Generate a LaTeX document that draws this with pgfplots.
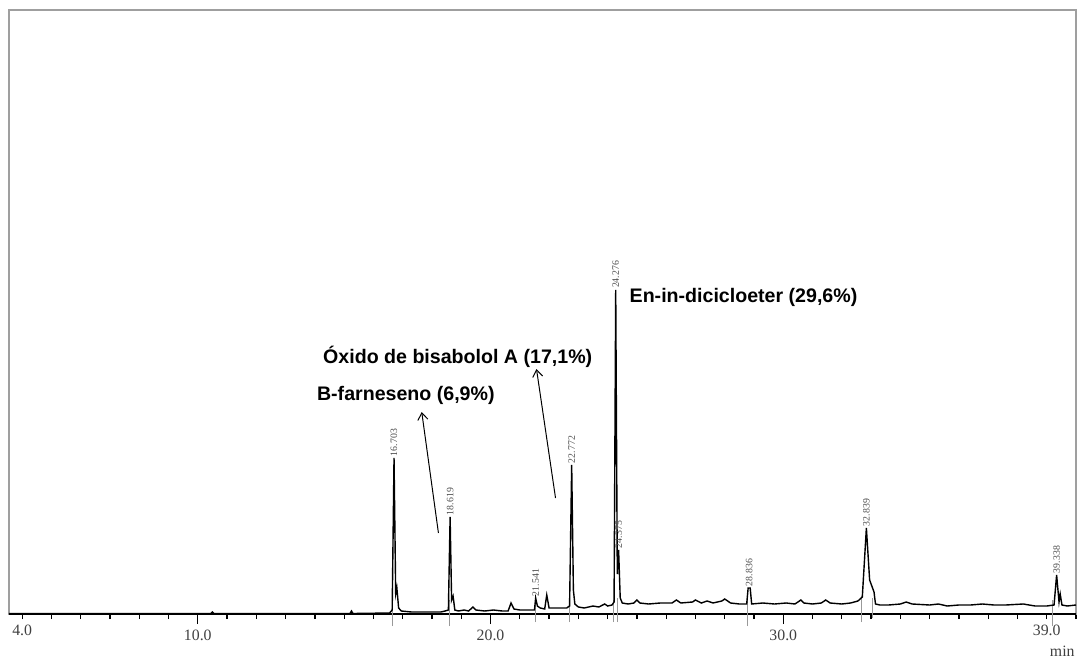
\documentclass[border=0pt]{standalone}
\usepackage{pgfplots}
\pgfplotsset{compat=1.18}
\usepackage{fontspec}
\setmainfont{Liberation Serif}
\newfontfamily\labelsans{Liberation Sans}
\usetikzlibrary{arrows.meta}

\begin{document}
\begin{tikzpicture}[
  rt/.style={rotate=90, anchor=west, inner sep=0.8pt, text=black!70,
    font=\fontsize{4.9}{5.5}\selectfont},
  compound/.style={anchor=base west, inner sep=0pt,
    font=\labelsans\bfseries\fontsize{9.8}{11}\selectfont},
]
% page frame: 1 px of the layout = 0.5 pt
\useasboundingbox (-4.5pt,-23pt) rectangle (534.5pt,307pt);
\begin{axis}[
  at={(0,0)}, anchor=south west,
  width=533.5pt, height=302pt, scale only axis,
  xmin=3.55, xmax=40.0, ymin=0, ymax=604,
  clip=false,
  axis line style={draw=gray!75, line width=0.9pt},
  ytick=\empty,
  xtick={10,20,30}, xticklabels={10.0,20.0,30.0},
  extra x ticks={4,39}, extra x tick labels={4.0,39.0},
  extra x tick style={major tick length=2.6pt},
  minor xtick={4,5,...,40},
  xtick pos=lower, tick align=outside,
  major tick length=5pt, minor tick length=2.6pt,
  tick style={black, line width=0.6pt},
  xticklabel style={font=\fontsize{7.9}{8.5}\selectfont, text=black!75, yshift=0.5pt},
  /pgf/number format/assume math mode=true,
]
% bottom axis line in black
\draw[black, line width=0.9pt] (rel axis cs:0,0) -- (rel axis cs:1,0);

% integration markers at peak starts and ends
\addplot[gray!80, line width=0.4pt, unbounded coords=jump] coordinates {
  (16.64,-12) (16.64,14) (16.64,nan)
  (18.58,-12) (18.58,14) (18.58,nan)
  (21.54,-8) (21.54,16) (21.54,nan)
  (22.70,-8) (22.70,14) (22.70,nan)
  (24.18,-8) (24.18,14) (24.18,nan)
  (24.33,-8) (24.33,16) (24.33,nan)
  (28.77,-12) (28.77,14) (28.77,nan)
  (32.68,-8) (32.68,18) (32.68,nan)
  (33.05,-4) (33.05,16) (33.05,nan)
  (39.20,-12) (39.20,14)
};

% chromatogram trace
\addplot[black, line width=0.7pt] coordinates {
(3.55,0.5) (10.45,0.5) (10.5,2) (10.55,0.5) (15.2,0.5) (15.25,3) (15.3,0.5)
(16.55,1) (16.64,4) (16.703,156) (16.76,20) (16.80,26) (16.86,6) (16.95,3)
(17.3,2) (17.8,2) (18.3,2) (18.45,3) (18.56,4) (18.619,97) (18.67,14)
(18.72,18) (18.78,4) (18.9,3) (19.1,4) (19.25,3) (19.4,7) (19.5,4)
(19.8,3) (20.1,4) (20.4,3) (20.6,3) (20.7,11) (20.8,5) (21.0,4) (21.2,4)
(21.4,4) (21.5,4) (21.541,16) (21.6,8) (21.7,6) (21.85,5) (21.92,19)
(22.0,6) (22.3,6) (22.6,6) (22.7,8) (22.772,149) (22.83,24) (22.88,10)
(23.0,7) (23.2,6) (23.5,8) (23.7,7) (23.9,10) (24.0,8) (24.15,9) (24.22,12)
(24.276,324) (24.33,40) (24.375,64) (24.43,16) (24.5,11) (24.7,10)
(24.9,11) (25.0,14) (25.1,11) (25.4,10) (25.8,11) (26.2,11) (26.35,14)
(26.5,11) (26.9,12) (27.0,14) (27.2,11) (27.4,13) (27.6,11) (27.9,13)
(28.0,15) (28.2,11) (28.5,10) (28.75,10) (28.8,26) (28.87,26) (28.92,10)
(29.3,11) (29.7,10) (30.1,11) (30.4,10) (30.6,14) (30.7,11) (31.0,10)
(31.3,11) (31.45,14) (31.6,11) (32.0,10) (32.3,11) (32.55,13) (32.7,17)
(32.839,86) (32.95,34) (33.1,22) (33.15,10) (33.3,9) (33.6,9) (34.0,10)
(34.2,12) (34.4,10) (35.0,9) (35.3,10) (35.6,8) (36.0,9) (36.4,9)
(36.8,10) (37.2,9) (37.6,9) (38.2,10) (38.6,8) (39.0,8) (39.25,9)
(39.338,39) (39.42,12) (39.46,20) (39.52,9) (39.7,8) (40.0,9)
};

% retention times above the peaks
\node[rt] at (axis cs:16.703,156) {16.703};
\node[rt] at (axis cs:18.619,97) {18.619};
\node[rt] at (axis cs:21.541,16) {21.541};
\node[rt] at (axis cs:22.772,149) {22.772};
\node[rt] at (axis cs:24.276,324) {24.276};
\node[rt] at (axis cs:24.375,64) {24.375};
\node[rt] at (axis cs:28.836,26) {28.836};
\node[rt] at (axis cs:32.839,86) {32.839};
\node[rt] at (axis cs:39.338,39) {39.338};

% compound annotations
\node[compound] at (axis cs:14.06,214) {B-farneseno (6,9\%)};
\node[compound] at (axis cs:14.27,251) {Óxido de bisabolol A (17,1\%)};
\node[compound] at (axis cs:24.74,312) {En-in-dicicloeter (29,6\%)};
\draw[black, line width=0.5pt, -{Straight Barb[length=3.5pt, width=5pt]}]
  (axis cs:18.22,81) -- (axis cs:17.65,202);
\draw[black, line width=0.5pt, -{Straight Barb[length=3.5pt, width=5pt]}]
  (axis cs:22.22,116) -- (axis cs:21.57,245);

% time unit
\node[anchor=center, text=black!75, font=\fontsize{7.9}{8.5}\selectfont]
  at (axis cs:39.53,-37) {min};
\end{axis}
\end{tikzpicture}
\end{document}
